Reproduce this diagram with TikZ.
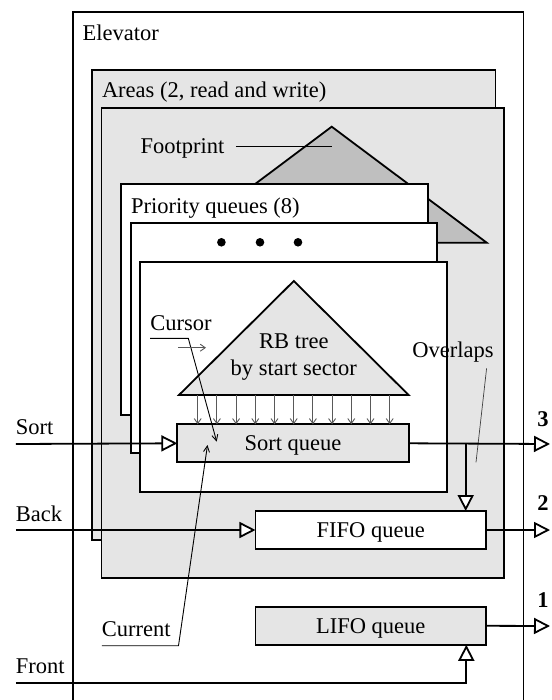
\documentclass[tikz,border=0pt]{standalone}
\usepackage{fontspec}
\setmainfont{Liberation Serif}
\usetikzlibrary{arrows.meta,calc}
\begin{document}
\begin{tikzpicture}[x=1pt,y=-1pt,
  every node/.style={font=\fontsize{22.5}{27}\selectfont, inner sep=0pt, outer sep=0pt},
  boxline/.style={line width=1.8pt},
  lightfill/.style={fill=black!10},
  queue/.style={draw, line width=1.8pt, minimum width=230.5pt, minimum height=38pt, text depth=0pt},
  flow/.style={line width=1.8pt, -{Triangle[length=16pt,width=16pt,fill=white]}},
  treearr/.style={line width=0.9pt, draw=black!65, -{Straight Barb[length=5pt,width=7pt]}},
  pointer/.style={line width=0.9pt, -{Straight Barb[length=6pt,width=6pt]}},
  leader/.style={line width=0.9pt},
  numlabel/.style={font=\fontsize{22.5}{27}\selectfont\bfseries}
]
\useasboundingbox (0,0) rectangle (551,700);
\fill[white] (0,0) rectangle (551,700);

% Elevator (open at the bottom)
\draw[boxline] (72.7,700) -- (72.7,12) -- (523.5,12) -- (523.5,700);
\node[anchor=west] (elev) at (82.6,33) {Elevator};

% Areas
\draw[boxline, lightfill] (91.7,69.7) rectangle (495.4,540);
\node[anchor=west] (areas) at (102,91.7) {Areas (2, read and write)};
\draw[boxline, lightfill] (101.5,107.7) rectangle (504.3,578.3);

% Footprint
\draw[boxline, fill=black!25] (331.7,126.7) -- (486.7,242.7) -- (176.7,242.7) -- cycle;
\node[anchor=west] (fp) at (140.5,148) {Footprint};
\coordinate (fptip) at (331.7,146);
\draw[leader] ($(fp.east)+(11.5,-2)$) -- (fptip);

% Priority queues
\draw[boxline, fill=white] (120.9,184.3) rectangle (427.7,415);
\node[anchor=west] (pq) at (131,208.3) {Priority queues (8)};
\draw[boxline, fill=white] (130.7,223) rectangle (437.3,453.3);
\fill (221.4,242.3) circle (4.3pt);
\fill (260,242.3) circle (4.3pt);
\fill (298,242.3) circle (4.3pt);
\draw[boxline, fill=white] (139.8,261.7) rectangle (447,492.3);

% RB tree
\draw[boxline, lightfill] (293.8,281) -- (408.6,395) -- (179,395) -- cycle;
\node (rb1) at (293.8,341.7) {RB tree};
\node (rb2) at (293.8,370) {by start sector};

% Queues
\node[queue, lightfill, minimum width=231.3pt] (sortq) at (293,443.3) {Sort queue};
\node[queue, fill=white] (fifo) at (370.7,530) {FIFO queue};
\node[queue, lightfill] (lifo) at (370.7,625.8) {LIFO queue};

% tree -> sort queue arrows
\foreach \i in {0,...,10}
  \draw[treearr] ({197.7+19.2*\i},395) -- ({197.7+19.2*\i},424.3);

% Cursor
\node (cursor) at (181,323.3) {Cursor};
\coordinate (cur1) at (150,338.3);
\coordinate (cur2) at (188.3,338.3);
\coordinate (curtip) at (216.7,441.7);
\draw[pointer] (cur1) -- (cur2) -- (curtip);
\coordinate (dir1) at (178,347.7);
\coordinate (dir2) at (206,347.7);
\draw[line width=0.9pt, draw=black!65, -{Straight Barb[length=5pt,width=7pt]}] (dir1) -- (dir2);

% Overlaps
\node (ovl) at (453,352.3) {Overlaps};
\coordinate (ovl1) at (486.6,368.3);
\coordinate (ovl2) at (476,462.3);
\draw[line width=0.7pt, draw=black!75] (ovl1) -- (ovl2);

% Current
\node[anchor=west] (current) at (101.9,629.3) {Current};
\coordinate (curu1) at (101.9,645.7);
\coordinate (curu2) at (178.5,645.7);
\coordinate (curtip2) at (207.5,445);
\draw[pointer] (curu1) -- (curu2) -- (curtip2);

% Inputs
\node[anchor=west] (sortlbl) at (15.8,427.3) {Sort};
\node[anchor=west] (backlbl) at (15.8,513.3) {Back};
\node[anchor=west] (frontlbl) at (15.8,666.7) {Front};
\coordinate (sortin) at (15.8,444);
\coordinate (backin) at (15.8,530);
\coordinate (frontin) at (15.8,683.3);
\coordinate (frontcorner) at (466.3,683.3);
\draw[flow] (sortin) -- (sortq.west);
\draw[flow] (backin) -- (fifo.west);
\draw[flow] (frontin) -- (frontcorner) -- (frontcorner |- lifo.south);

% Overlaps flow
\coordinate (ovsplit) at (465.7,444);
\draw[flow] (ovsplit) -- (ovsplit |- fifo.north);

% Outputs
\coordinate (out3) at (550,444);
\coordinate (out2) at (550,530);
\coordinate (out1) at (550,626);
\draw[flow] (sortq.east) -- (out3);
\draw[flow] (fifo.east) -- (out2);
\draw[flow] (lifo.east) -- (out1);
\node[numlabel] (n3) at (543,419) {3};
\node[numlabel] (n2) at (543,503.3) {2};
\node[numlabel] (n1) at (543,600) {1};
\end{tikzpicture}
\end{document}
